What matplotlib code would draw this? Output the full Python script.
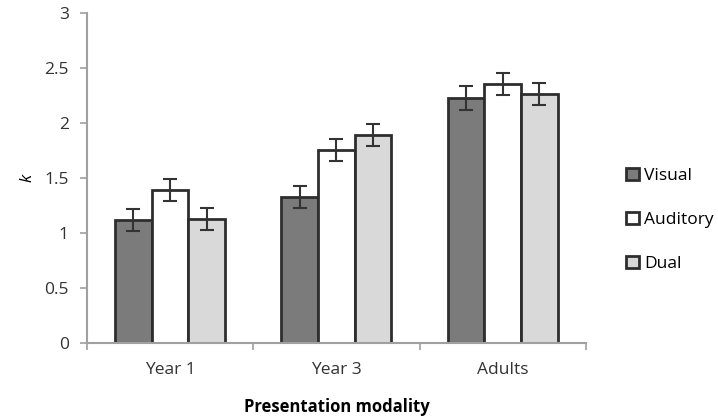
import matplotlib.pyplot as plt
import numpy as np

plt.rcParams['font.family'] = ['Open Sans', 'DejaVu Sans']

groups = ['Year 1', 'Year 3', 'Adults']
series = ['Visual', 'Auditory', 'Dual']
visual = [1.12, 1.33, 2.23]
auditory = [1.39, 1.76, 2.36]
dual = [1.13, 1.89, 2.27]
err_visual = [0.10, 0.10, 0.11]
err_auditory = [0.10, 0.10, 0.10]
err_dual = [0.10, 0.10, 0.10]

colors = ['#7b7b7b', '#ffffff', '#d9d9d9']

fig = plt.figure(figsize=(7.18, 4.19), dpi=100)
ax = fig.add_axes([0.121, 0.182, 0.695, 0.786])

x = np.arange(len(groups))
w = 0.22
vals = [visual, auditory, dual]
errs = [err_visual, err_auditory, err_dual]
for i in range(3):
    ax.bar(x + (i - 1) * w, vals[i], w, color=colors[i], edgecolor='#2e2e2e',
           linewidth=2, label=series[i], zorder=2)
    ax.errorbar(x + (i - 1) * w, vals[i], yerr=errs[i], fmt='none',
                ecolor='#333333', elinewidth=1.5, capsize=5, capthick=1.5, zorder=3)

ax.set_xlim(-0.5, 2.5)
ax.set_ylim(0, 3)
ax.set_yticks([0, 0.5, 1, 1.5, 2, 2.5, 3])
ax.set_yticklabels(['0', '0.5', '1', '1.5', '2', '2.5', '3'])
ax.set_xticks(x)
ax.set_xticklabels(groups)
ax.set_xticks([-0.5, 0.5, 1.5, 2.5], minor=True)
ax.tick_params(axis='x', which='major', length=0, pad=14, labelsize=12.5, colors='#333333')
ax.tick_params(axis='x', which='minor', length=5, color='#a0a0a0', width=1.2)
ax.tick_params(axis='y', length=5, color='#a0a0a0', width=1.2, labelsize=12.5,
               colors='#333333', pad=8)

for s in ['top', 'right']:
    ax.spines[s].set_visible(False)
for s in ['left', 'bottom']:
    ax.spines[s].set_color('#a0a0a0')
    ax.spines[s].set_linewidth(1.5)

ax.set_xlabel('Presentation modality', fontweight='bold', fontsize=12, labelpad=14)
ax.set_ylabel('k', fontstyle='italic', fontsize=12, rotation=90, labelpad=6)

ax.legend(loc='center left', bbox_to_anchor=(1.05, 0.372), frameon=False,
          fontsize=12.5, handlelength=0.7, handleheight=0.7, handletextpad=0.3,
          labelspacing=1.6)

plt.savefig('out.png', dpi=100)
